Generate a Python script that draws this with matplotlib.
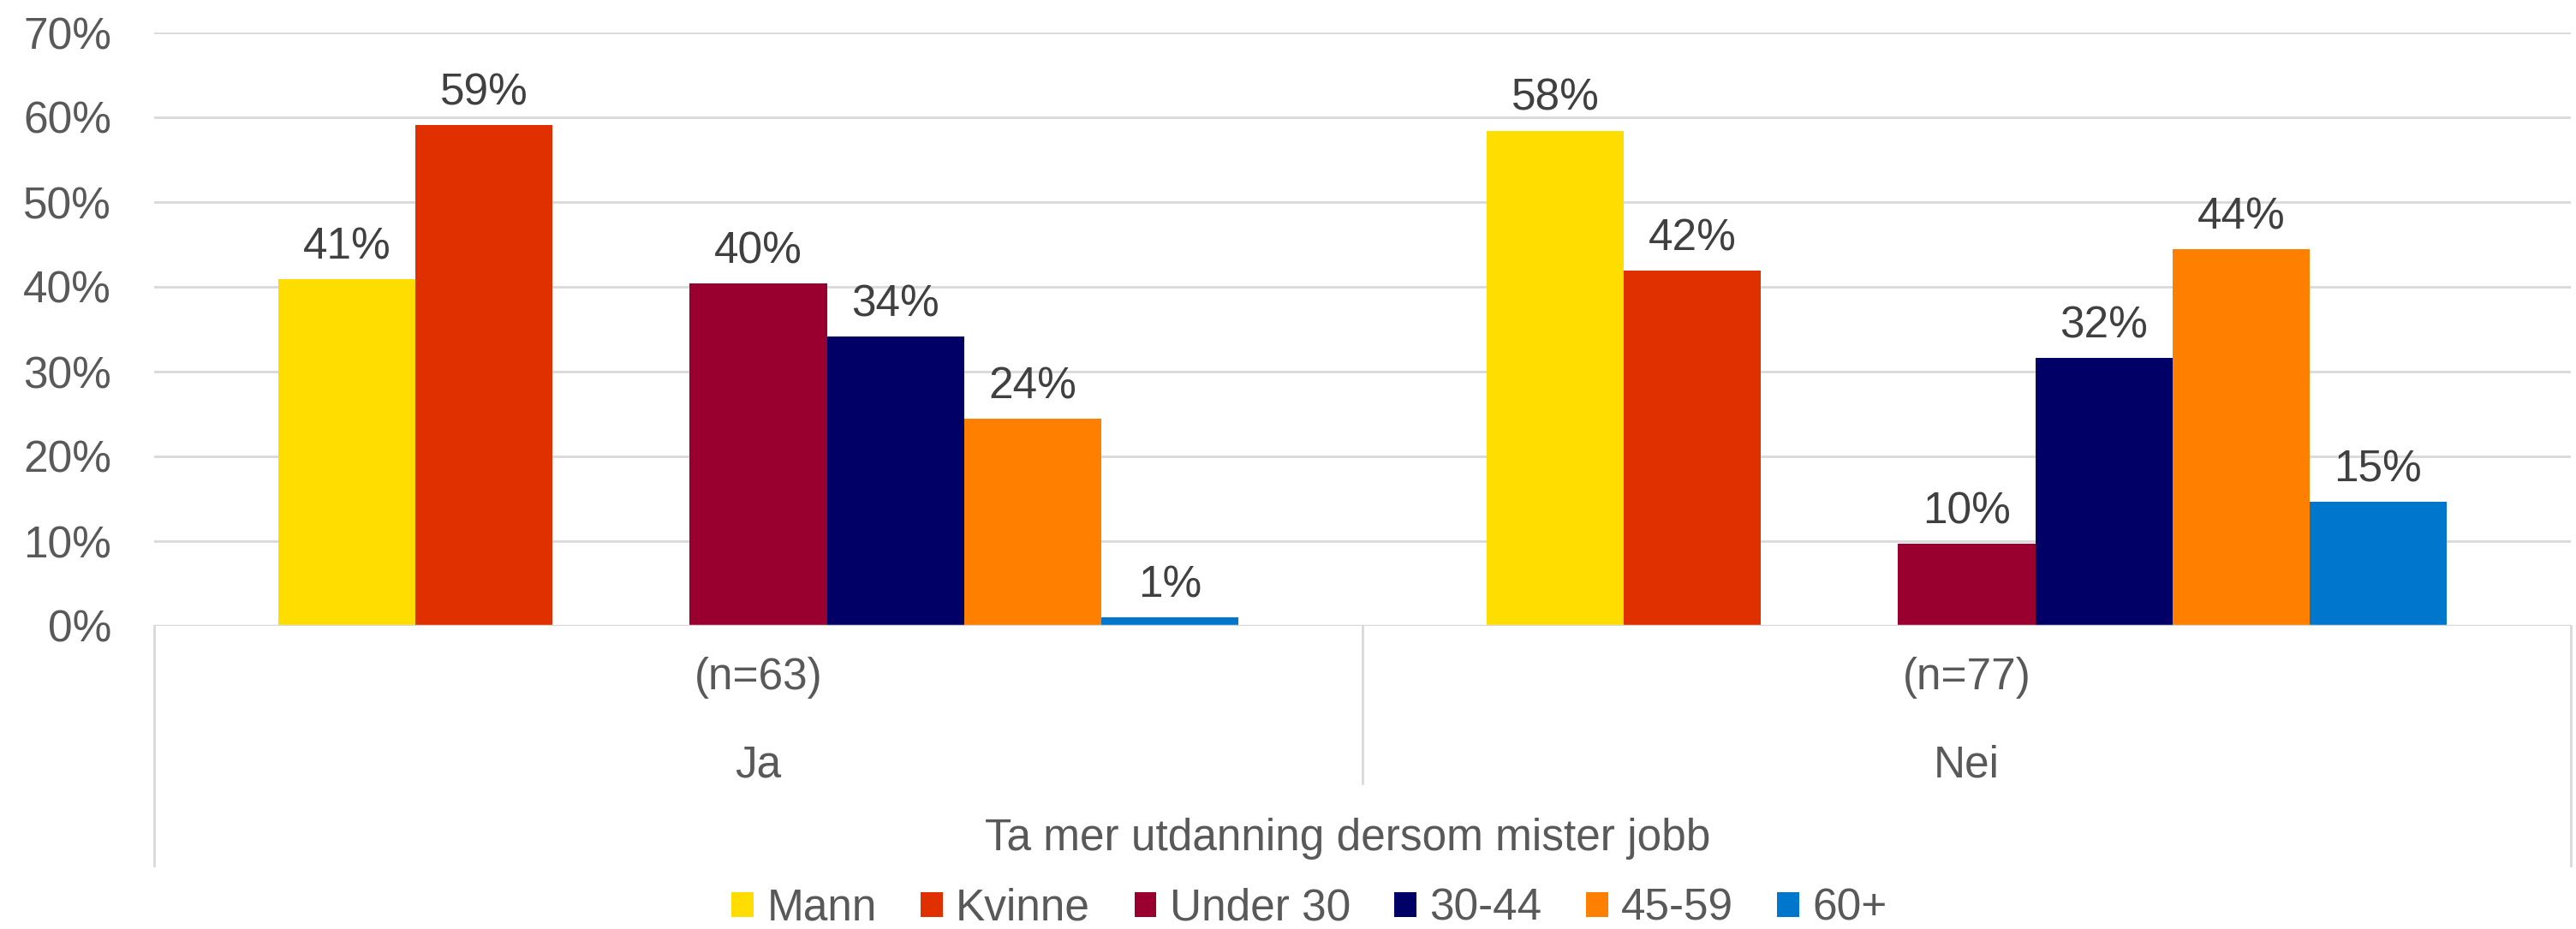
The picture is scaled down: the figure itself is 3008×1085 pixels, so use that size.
import matplotlib
matplotlib.use("Agg")
import matplotlib.pyplot as plt
from matplotlib.patches import Patch
import matplotlib.transforms as mtransforms

plt.rcParams['font.family'] = ['Liberation Sans', 'DejaVu Sans']

categories = ["Ja", "Nei"]
n_labels = ["(n=63)", "(n=77)"]
series = ["Mann", "Kvinne", "Under 30", "30-44", "45-59", "60+"]
ja_values = [40.9, 59.1, 40.4, 34.1, 24.4, 1.0]
nei_values = [58.4, 41.9, 9.7, 31.6, 44.4, 14.6]
colors = ["#FFDD00", "#E03000", "#990030", "#000066", "#FF8000", "#0077CC"]
slots = [0, 1, 3, 4, 5, 6]  # empty slot between gender and age groups
yticks = [0, 10, 20, 30, 40, 50, 60, 70]
axis_title = "Ta mer utdanning dersom mister jobb"

W, H = 3008, 1085
fig = plt.figure(figsize=(W / 100, H / 100), dpi=100)
left, right, top, bottom = 180, 3002, 38, 731
ax = fig.add_axes([left / W, 1 - bottom / H, (right - left) / W, (bottom - top) / H])

grid_c = "#D9D9D9"
text_c = "#595959"
label_c = "#404040"
fs = 37

slot_w = 0.1135
values = [ja_values, nei_values]
for si, name in enumerate(series):
    for ci in range(len(categories)):
        v = values[ci][si]
        x = ci + (slots[si] - 3) * slot_w
        ax.bar(x, v, width=slot_w, color=colors[si], zorder=3)
        ax.text(x, v + 1.3, f"{round(v)}%", ha="center", va="bottom",
                fontsize=fs, color=label_c, zorder=4)

ax.set_xlim(-0.5, 1.5)
ax.set_ylim(0, 70)
ax.set_yticks(yticks)
ax.set_yticklabels([f"{t}%" for t in yticks], fontsize=fs, color=text_c)
ax.set_xticks([])
ax.tick_params(axis="y", length=0, pad=36)
for sp in ax.spines.values():
    sp.set_visible(False)
ax.grid(axis="y", color=grid_c, linewidth=2, zorder=0)
ax.axhline(0, color=grid_c, linewidth=2.5, zorder=3)

trans = mtransforms.blended_transform_factory(ax.transData, ax.transAxes)
low = -(1011 - bottom) / (bottom - top)
mid = -(915 - bottom) / (bottom - top)
for xb, yb in [(-0.5, low), (0.5, mid), (1.5, low)]:
    ax.plot([xb, xb], [0, yb], transform=trans, color=grid_c, linewidth=2,
            clip_on=False)

for ci, (cat, nl) in enumerate(zip(categories, n_labels)):
    ax.text(ci, -(792 - bottom) / (bottom - top), nl, transform=trans,
            ha="center", va="center", fontsize=fs, color=text_c)
    ax.text(ci, -(894 - bottom) / (bottom - top), cat, transform=trans,
            ha="center", va="center", fontsize=fs, color=text_c)

fig.text(1574 / W, 1 - 980 / H, axis_title, ha="center", va="center",
         fontsize=fs, color=text_c)

handles = [Patch(facecolor=c, edgecolor="none", label=s) for s, c in zip(series, colors)]
leg = fig.legend(handles=handles, loc="center", bbox_to_anchor=(1529 / W, 1 - 1061 / H),
                 ncol=6, frameon=False, fontsize=fs, handlelength=0.5,
                 handleheight=0.5, handletextpad=0.3, columnspacing=1.0,
                 borderaxespad=0, borderpad=0)
for t in leg.get_texts():
    t.set_color(text_c)

fig.savefig("out.png", dpi=100, facecolor="white")
